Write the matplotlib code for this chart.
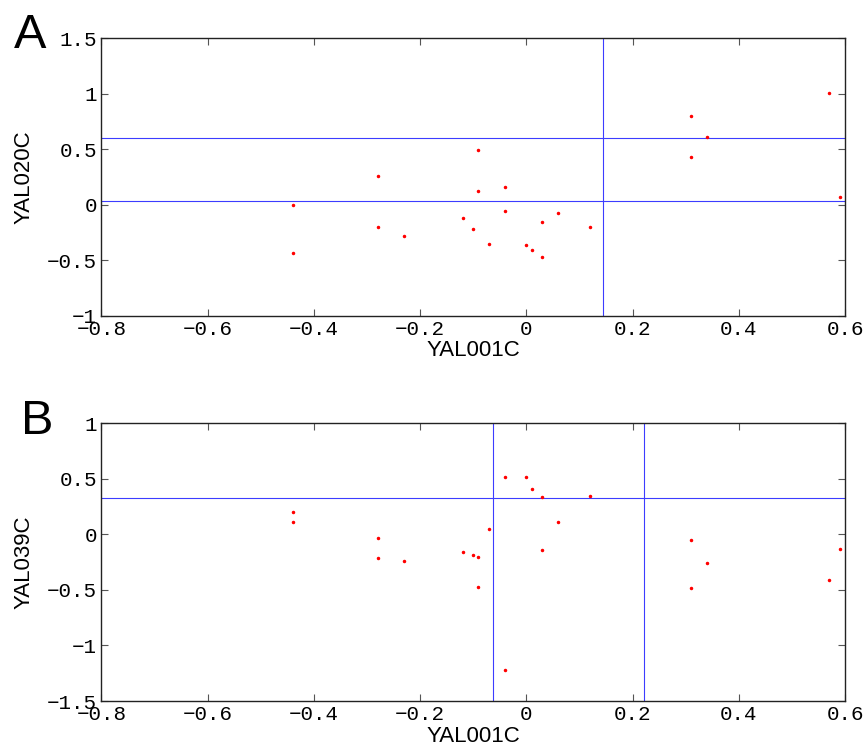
import matplotlib
matplotlib.use("Agg")
import matplotlib.pyplot as plt
from matplotlib.ticker import FuncFormatter

# expression of YAL001C (shared x of both panels)
x_yal001c = [-0.44, -0.44, -0.28, -0.28, -0.23, -0.12, -0.10, -0.09, -0.09, -0.07,
             -0.04, -0.04, 0.00, 0.01, 0.03, 0.03, 0.06, 0.12, 0.31, 0.31,
             0.34, 0.57, 0.59]
y_yal020c = [0.00, -0.435, 0.255, -0.204, -0.285, -0.123, -0.219, 0.487, 0.126, -0.354,
             0.156, -0.054, -0.363, -0.408, -0.153, -0.475, -0.075, -0.204, 0.796, 0.426,
             0.606, 1.006, 0.066]
y_yal039c = [0.202, 0.108, -0.030, -0.210, -0.240, -0.159, -0.189, -0.201, -0.471, 0.048,
             0.520, -1.222, 0.520, 0.405, 0.340, -0.141, 0.108, 0.349, -0.051, -0.483,
             -0.261, -0.411, -0.132]

# threshold lines
hlines_a = [0.595, 0.035]
vlines_a = [0.144]
hlines_b = [0.331]
vlines_b = [-0.063, 0.222]

xticks = [-0.8, -0.6, -0.4, -0.2, 0, 0.2, 0.4, 0.6]
yticks_a = [-1, -0.5, 0, 0.5, 1, 1.5]
yticks_b = [-1.5, -1, -0.5, 0, 0.5, 1]

BLUE = '#3c3cff'
MONO = ['Liberation Mono', 'DejaVu Sans Mono']
SANS = ['Liberation Sans', 'DejaVu Sans']


def fmt(v, pos):
    s = ('%g' % v).replace('-', '\u2212')
    return '0' if s in ('\u22120', '0') else s


def panel(ax, x, y, hl, vl, yticks, ylim, ylabel):
    for h in hl:
        ax.axhline(h, color=BLUE, lw=0.8, zorder=1)
    for v in vl:
        ax.axvline(v, color=BLUE, lw=0.8, zorder=1)
    ax.plot(x, y, 'r.', markersize=3, zorder=3)

    ax.set_xlim(-0.8, 0.6)
    ax.set_ylim(*ylim)
    ax.set_xticks(xticks)
    ax.set_yticks(yticks)
    ax.xaxis.set_major_formatter(FuncFormatter(fmt))
    ax.yaxis.set_major_formatter(FuncFormatter(fmt))
    ax.tick_params(direction='in', length=5, width=0.8, color='#555555',
                   top=True, right=True, labelsize=15, pad=3)
    for lab in ax.get_xticklabels() + ax.get_yticklabels():
        lab.set_family(MONO)
    for sp in ax.spines.values():
        sp.set_linewidth(1.0)
        sp.set_color('#222222')

    ax.set_xlabel('YAL001C', fontsize=16, family=SANS, labelpad=1)
    ax.set_ylabel(ylabel, fontsize=16, family=SANS, labelpad=9)


fig = plt.figure(figsize=(8.65, 7.5), dpi=100)
ax_a = fig.add_axes([0.1171, 0.5793, 0.8598, 0.3700])
ax_b = fig.add_axes([0.1171, 0.0653, 0.8598, 0.3703])

panel(ax_a, x_yal001c, y_yal020c, hlines_a, vlines_a, yticks_a, (-1, 1.5), 'YAL020C')
panel(ax_b, x_yal001c, y_yal039c, hlines_b, vlines_b, yticks_b, (-1.5, 1), 'YAL039C')

# panel letters
fig.text(14 / 865, 1 - 48 / 750, 'A', fontsize=35, family=SANS, va='baseline')
fig.text(21 / 865, 1 - 434 / 750, 'B', fontsize=35, family=SANS, va='baseline')

fig.savefig('out.png', dpi=100)
